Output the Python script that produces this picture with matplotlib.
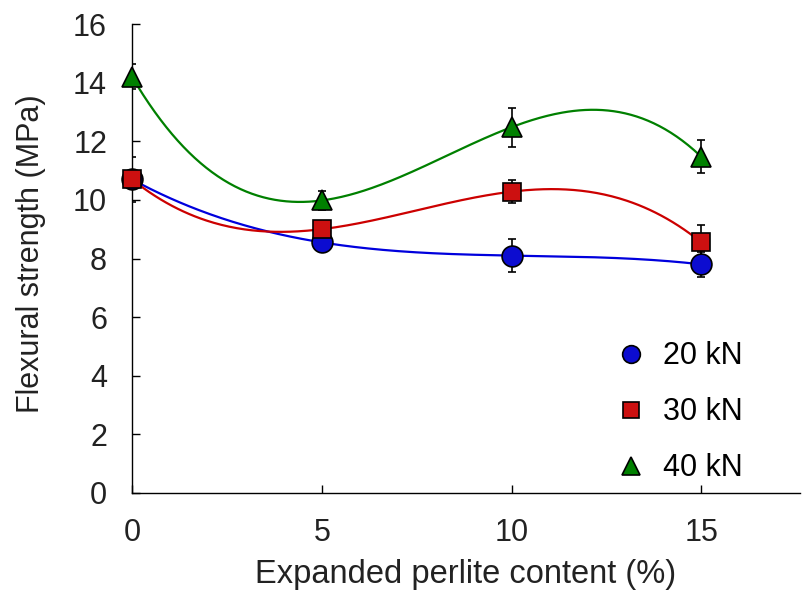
import numpy as np
import matplotlib
matplotlib.use("Agg")
import matplotlib.pyplot as plt

plt.rcParams['font.family'] = ['Liberation Sans', 'DejaVu Sans']

# data
content = [0, 5, 10, 15]
s20 = [10.7, 8.55, 8.1, 7.8]
s30 = [10.7, 9.0, 10.28, 8.55]
s40 = [14.2, 9.98, 12.48, 11.47]
e20 = [0.0, 0.0, 0.55, 0.42]
e30 = [0.77, 0.0, 0.4, 0.6]
e40 = [0.42, 0.33, 0.67, 0.57]
labels = ['20 kN', '30 kN', '40 kN']

fig = plt.figure(figsize=(8.02, 5.97), dpi=100)
ax = fig.add_axes([132/802, 1 - 493/597, 668/802, 469/597])

styles = [
    (s20, e20, 'o', '#0c0cd0', '#0000dd', 15),
    (s30, e30, 's', '#cc1010', '#cc0000', 13.5),
    (s40, e40, '^', '#008000', '#008000', 15),
]

x = np.array(content, dtype=float)
xs = np.linspace(0, 15, 300)

# error bars first, then fitted curves, then markers
for vals, errs, m, fc, lc, ms in styles:
    ax.errorbar(x, vals, yerr=errs, fmt='none', ecolor='black',
                elinewidth=1.2, capsize=3, capthick=1.2, zorder=2)
for vals, errs, m, fc, lc, ms in styles:
    coef = np.polyfit(x, vals, 3)
    ax.plot(xs, np.polyval(coef, xs), color=lc, lw=1.6, zorder=3)
handles = []
for (vals, errs, m, fc, lc, ms), lab in zip(styles, labels):
    h, = ax.plot(x, vals, ls='none', marker=m, ms=ms, mfc=fc, mec='black',
                 mew=1.2, zorder=4, label=lab, clip_on=False)
    handles.append(h)

ax.set_xlim(0, 17.6)
ax.set_ylim(0, 16)
ax.set_xticks([0, 5, 10, 15])
ax.set_yticks(np.arange(0, 17, 2))
ax.spines['top'].set_visible(False)
ax.spines['right'].set_visible(False)
for sp in ['left', 'bottom']:
    ax.spines[sp].set_linewidth(1.0)
ax.tick_params(direction='in', length=6, width=1, labelsize=22, pad=18,
               colors='black', labelcolor='#222222')

ax.set_xlabel('Expanded perlite content (%)', fontsize=23.5, labelpad=8, color='#222222')
ax.set_ylabel('Flexural strength (MPa)', fontsize=22, color='#222222')
ax.yaxis.set_label_coords(-0.128, 0.51)

ax.legend(handles=handles, loc='lower right', bbox_to_anchor=(0.955, -0.038),
          frameon=False, fontsize=22, markerscale=0.85, labelspacing=0.85,
          handletextpad=0.45, handlelength=1.2)

fig.savefig('out.png', dpi=100)
